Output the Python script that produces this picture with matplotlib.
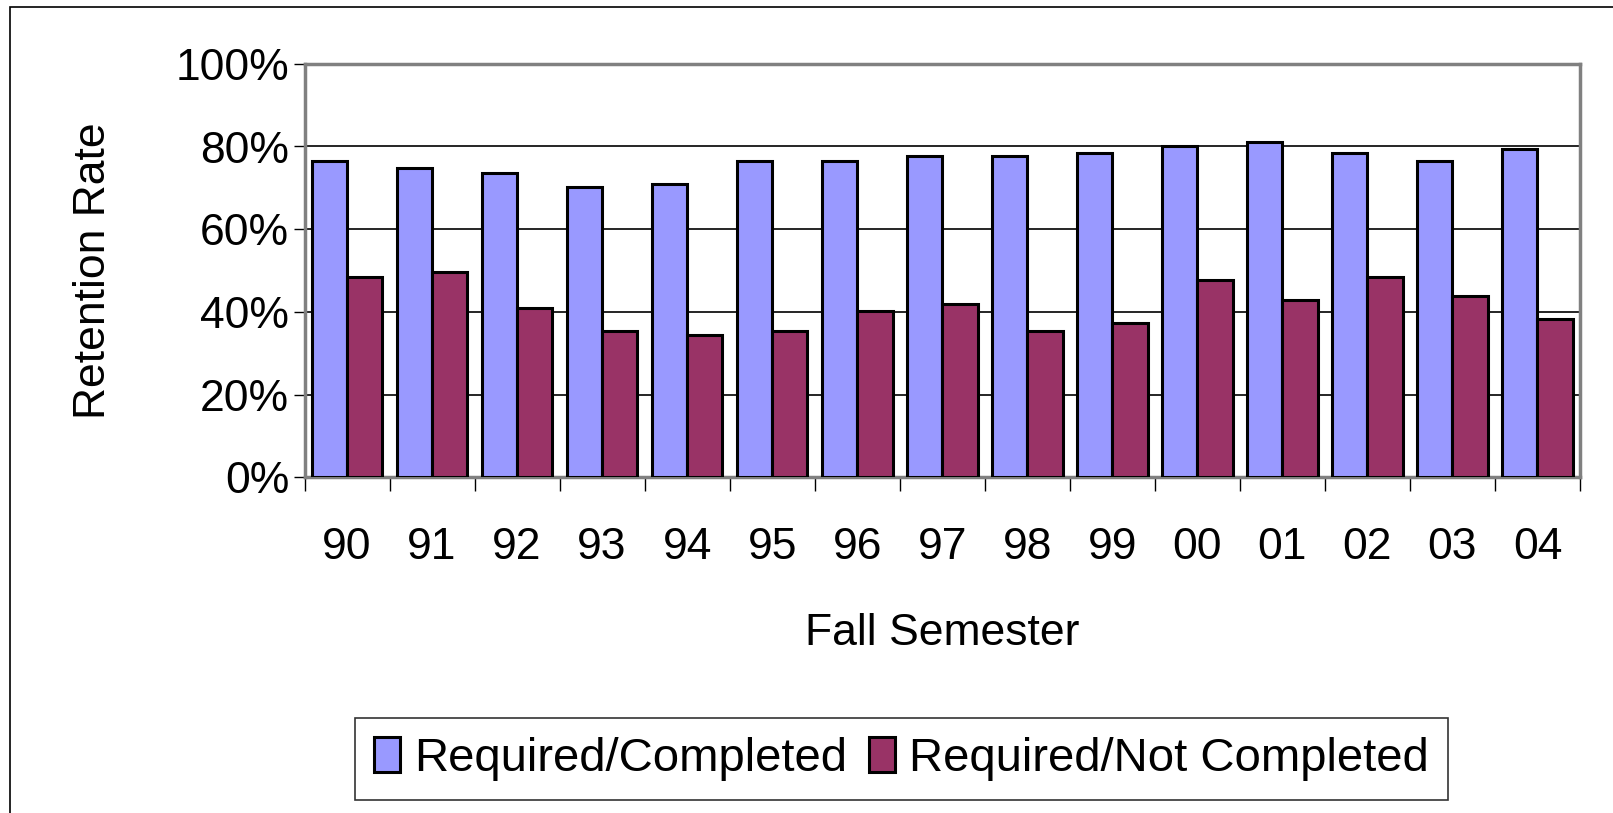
import matplotlib
matplotlib.use("Agg")
import matplotlib.pyplot as plt
from matplotlib.patches import Rectangle
import numpy as np

# data
semesters = ["90", "91", "92", "93", "94", "95", "96", "97",
             "98", "99", "00", "01", "02", "03", "04"]
completed = [76.6, 74.8, 73.7, 70.2, 71.0, 76.6, 76.6, 77.6,
             77.6, 78.4, 80.0, 81.2, 78.4, 76.6, 79.4]
not_completed = [48.5, 49.6, 41.0, 35.3, 34.4, 35.3, 40.2, 41.8,
                 35.3, 37.3, 47.6, 42.9, 48.4, 43.8, 38.2]
series_names = ["Required/Completed", "Required/Not Completed"]
colors = ["#9999FF", "#993366"]
yticks = [0, 20, 40, 60, 80, 100]

plt.rcParams["font.family"] = ["Liberation Sans", "DejaVu Sans"]

W, H = 1613, 813
fig = plt.figure(figsize=(W / 100, H / 100), dpi=100)
ax = fig.add_axes([304.5 / W, 1 - 477.3 / H, (1580 - 304.5) / W, (477.3 - 63.8) / H])

x = np.arange(len(semesters))
w = 0.415
ax.bar(x - w / 2, completed, w, color=colors[0], edgecolor="black",
       linewidth=2.2, label=series_names[0], zorder=3)
ax.bar(x + w / 2, not_completed, w, color=colors[1], edgecolor="black",
       linewidth=2.2, label=series_names[1], zorder=3)

ax.set_xlim(-0.5, len(semesters) - 0.5)
ax.set_ylim(0, 100)
ax.set_yticks(yticks)
ax.set_yticklabels([f"{v}%" for v in yticks], fontsize=32)
ax.yaxis.grid(True, color="black", linewidth=1.2, zorder=0)
ax.tick_params(axis="y", length=8, width=1, pad=3)

# category labels in the middle, tick marks on the boundaries
ax.set_xticks(x)
ax.set_xticklabels(semesters, fontsize=32)
ax.tick_params(axis="x", which="major", length=0, pad=36)
ax.set_xticks(np.arange(len(semesters) + 1) - 0.5, minor=True)
ax.tick_params(axis="x", which="minor", length=10, width=1)

for s in ax.spines.values():
    s.set_color("#808080")
    s.set_linewidth(2.5)

ax.set_xlabel("Fall Semester", fontsize=32, labelpad=32)
ax.set_ylabel("Retention Rate", fontsize=32, labelpad=44)

# outer chart border
fig.patches.append(Rectangle((10 / W, -0.1), 1.2, 1 - 7 / H + 0.1,
                             transform=fig.transFigure, fill=False,
                             edgecolor="black", linewidth=1.2))

leg = fig.legend(loc="center", bbox_to_anchor=(901.5 / W, 1 - 759 / H),
                 ncol=2, fontsize=34, frameon=True, fancybox=False,
                 edgecolor="black", handlelength=0.55, handleheight=0.75,
                 handletextpad=0.3, columnspacing=0.45, borderpad=0.4)
leg.get_frame().set_linewidth(1.2)

fig.savefig("out.png", dpi=100)
